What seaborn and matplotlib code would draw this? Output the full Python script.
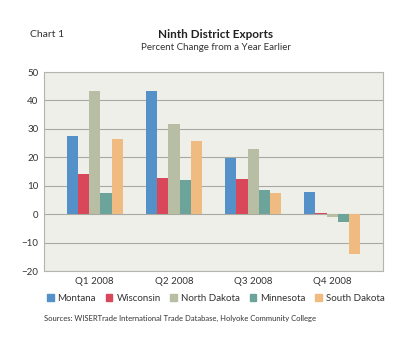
import matplotlib
matplotlib.use("Agg")
import matplotlib.pyplot as plt
import pandas as pd
import seaborn as sns

quarters = ["Q1 2008", "Q2 2008", "Q3 2008", "Q4 2008"]
states = ["Montana", "Wisconsin", "North Dakota", "Minnesota", "South Dakota"]
montana = [27.5, 43.2, 19.6, 7.7]
wisconsin = [14.3, 12.6, 12.3, 0.6]
north_dakota = [43.3, 31.7, 23.1, -1.0]
minnesota = [7.5, 12.2, 8.5, -2.8]
south_dakota = [26.5, 25.7, 7.6, -14.0]
colors = ["#5391c8", "#d9475a", "#b7bea3", "#6ca49b", "#efbb80"]

rows = []
for state, vals in zip(states, [montana, wisconsin, north_dakota, minnesota, south_dakota]):
    for q, v in zip(quarters, vals):
        rows.append({"quarter": q, "state": state, "value": v})
df = pd.DataFrame(rows)

sns.set_theme(style="white")
plt.rcParams["font.family"] = ["Lato", "DejaVu Sans"]

fig = plt.figure(figsize=(4.15, 3.53), dpi=100)
ax = fig.add_axes([0.106, 0.232, 0.817, 0.564])
ax.set_facecolor("#efefe9")

sns.barplot(data=df, x="quarter", y="value", hue="state", palette=colors,
            width=0.71, saturation=1, ax=ax, legend=False, linewidth=0,
            edgecolor="none", zorder=3)

ax.set_ylim(-20, 50)
ax.set_xlim(-0.64, 3.64)
ax.set_yticks(range(-20, 51, 10))
ax.yaxis.grid(True, color="#a9a9a4", linewidth=0.8, zorder=0)
ax.set_axisbelow(True)
ax.set_xlabel("")
ax.set_ylabel("")
ax.tick_params(axis="both", labelsize=7, colors="#333333", length=0, pad=4)
for s in ax.spines.values():
    s.set_color("#b5b5b0")
    s.set_linewidth(0.8)

fig.text(0.072, 0.903, "Chart 1", fontsize=7.5, color="#333333", va="center")
fig.text(0.52, 0.903, "Ninth District Exports", fontsize=8.5, fontweight="bold",
         color="#222222", ha="center", va="center")
fig.text(0.52, 0.865, "Percent Change from a Year Earlier", fontsize=7,
         color="#333333", ha="center", va="center")

handles = [plt.Rectangle((0, 0), 1, 1, color=c) for c in colors]
fig.legend(handles, states, loc="center", bbox_to_anchor=(0.52, 0.155), ncol=5,
           frameon=False, fontsize=7, handlelength=0.7, handleheight=0.7,
           handletextpad=0.4, columnspacing=1.0, labelcolor="#333333")

fig.text(0.106, 0.098, "Sources: WISERTrade International Trade Database, Holyoke Community College",
         fontsize=5.5, color="#333333", va="center")

fig.savefig("out.png", dpi=100, facecolor="white")
